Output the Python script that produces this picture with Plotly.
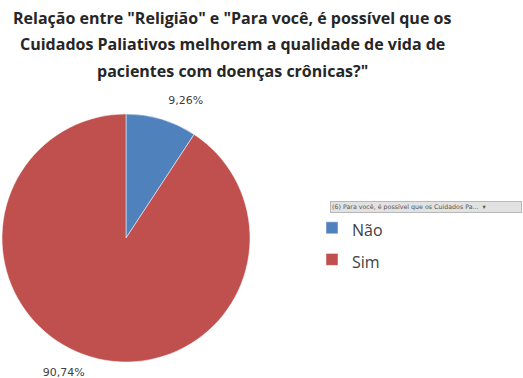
import plotly.graph_objects as go

categories = ["Não", "Sim"]
values = [9.26, 90.74]
colors = ["#4F81BD", "#C0504D"]
title_lines = ['Relação entre "Religião" e "Para você, é possível que os',
               'Cuidados Paliativos melhorem a qualidade de vida de',
               'pacientes com doenças crônicas?"']
field_button = "(6) Para você, é possível que os Cuidados Pa...  ▾"

W, H = 523, 378
legend_labels = [f"<span style='font-size:16px'>{c}</span>" for c in categories]
label_templates = ["%{percent:.2%}<br><span style='font-size:8px'> </span>",
                   "<span style='font-size:6px'> </span><br>%{percent:.2%}"]

fig = go.Figure(go.Pie(
    labels=legend_labels, values=values, sort=False, direction="clockwise",
    rotation=0, marker=dict(colors=colors, line=dict(color="white", width=0.5)),
    textposition="outside", texttemplate=label_templates, automargin=False,
    textfont=dict(family="DejaVu Sans", size=11, color="#404040"),
    domain=dict(x=[2/W, 250/W], y=[16/H, 264/H]),
    showlegend=True,
))

title_y = [18, 44.5, 71]
annotations = [dict(text=f"<b>{t}</b>", x=232/W, y=1 - yy/H, xref="paper", yref="paper",
                    xanchor="center", yanchor="middle", showarrow=False,
                    font=dict(family="Open Sans", size=16, color="#262626"))
               for t, yy in zip(title_lines, title_y)]
annotations.append(dict(text=field_button, x=330/W, y=1 - 206.5/H, xref="paper", yref="paper",
                        xanchor="left", yanchor="middle", showarrow=False, width=188,
                        align="left",
                        font=dict(family="DejaVu Sans", size=6.3, color="#555555"),
                        bgcolor="#E2E2E2", bordercolor="#B8B8B8", borderwidth=1, borderpad=1))

fig.update_layout(
    width=W, height=H, margin=dict(l=0, r=0, t=0, b=0, autoexpand=False),
    paper_bgcolor="white", separators=",.",
    legend=dict(x=312/W, y=1 - 207/H, xanchor="left", yanchor="top",
                font=dict(family="Open Sans", size=22, color="#404040"),
                itemwidth=30),
    annotations=annotations,
)
fig.write_html("out.html")
